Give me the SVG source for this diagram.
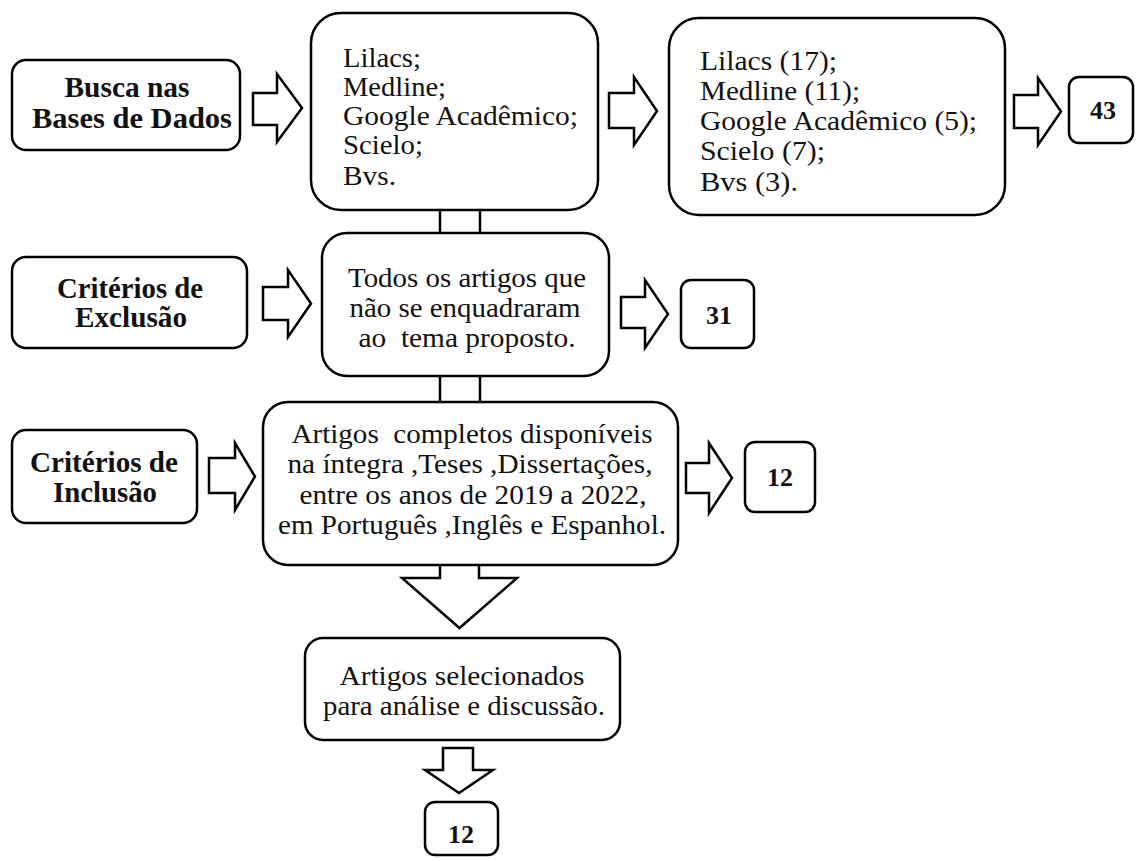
<svg xmlns="http://www.w3.org/2000/svg" width="1137" height="861" viewBox="0 0 1137 861">
<style>
.box{fill:#fff;stroke:#000;stroke-width:2.5}
.arr{fill:#fff;stroke:#000;stroke-width:2.5;stroke-linejoin:miter}
.ln{stroke:#000;stroke-width:2.5}
text{font-family:'Liberation Serif','Tinos','Times New Roman','Nimbus Roman','DejaVu Serif',serif;font-size:28px;fill:#111;white-space:pre}
.c{text-anchor:middle}
.b{font-weight:bold;font-size:29px}
.n{font-weight:bold;font-size:26px}
</style>
<rect width="1137" height="861" fill="#fff"/>
<g id="connectors">
<line class="ln" x1="440" y1="210" x2="440" y2="233"/>
<line class="ln" x1="480" y1="210" x2="480" y2="233"/>
<line class="ln" x1="440" y1="376" x2="440" y2="402"/>
<line class="ln" x1="480" y1="376" x2="480" y2="402"/>
<path class="arr" d="M253 93 H277 V74 L302 108 L277 142 V125 H253 Z"/>
<path class="arr" d="M609 93 H634 V77 L657 111 L634 145 V128 H609 Z"/>
<path class="arr" d="M1014 95 H1038 V78 L1061 111.5 L1038 145 V128 H1014 Z"/>
<path class="arr" d="M263 287 H288 V270 L311 303.5 L288 337 V320 H263 Z"/>
<path class="arr" d="M621 297 H645 V280 L668 314 L645 348 V328 H621 Z"/>
<path class="arr" d="M209 458 H235 V443 L255 476.5 L235 510 V493 H209 Z"/>
<path class="arr" d="M686 463 H709 V443 L732 478 L709 513 V493 H686 Z"/>
<path class="arr" d="M440 565 V578 H402 L459.5 628 L517 578 H479 V565"/>
<path class="arr" d="M443 748 V770 H425 L459 793 L493 770 H473 V748 Z"/>
</g>
<g id="busca">
<rect class="box" x="12" y="60" width="228" height="90" rx="14"/>
<text class="c b" x="127" y="97" textLength="125" lengthAdjust="spacingAndGlyphs">Busca nas</text>
<text class="c b" x="132" y="128" textLength="200" lengthAdjust="spacingAndGlyphs">Bases de Dados</text>
</g>
<g id="bases">
<rect class="box" x="311" y="13" width="287" height="197" rx="30"/>
<text x="343" y="67" textLength="78" lengthAdjust="spacingAndGlyphs">Lilacs;</text>
<text x="343" y="96" textLength="103" lengthAdjust="spacingAndGlyphs">Medline;</text>
<text x="343" y="125" textLength="235" lengthAdjust="spacingAndGlyphs">Google Acadêmico;</text>
<text x="343" y="154" textLength="80" lengthAdjust="spacingAndGlyphs">Scielo;</text>
<text x="343" y="185" textLength="53" lengthAdjust="spacingAndGlyphs">Bvs.</text>
</g>
<g id="resultados">
<rect class="box" x="669" y="18" width="336" height="197" rx="30"/>
<text x="700" y="70" textLength="137" lengthAdjust="spacingAndGlyphs">Lilacs (17);</text>
<text x="700" y="100" textLength="160" lengthAdjust="spacingAndGlyphs">Medline (11);</text>
<text x="700" y="130" textLength="277" lengthAdjust="spacingAndGlyphs">Google Acadêmico (5);</text>
<text x="700" y="160" textLength="125" lengthAdjust="spacingAndGlyphs">Scielo (7);</text>
<text x="700" y="191" textLength="98" lengthAdjust="spacingAndGlyphs">Bvs (3).</text>
</g>
<g id="n43">
<rect class="box" x="1069" y="77" width="64" height="66" rx="10"/>
<text class="c n" x="1103" y="119">43</text>
</g>
<g id="exclusao-label">
<rect class="box" x="12" y="257" width="235" height="91" rx="14"/>
<text class="c b" x="130" y="298" textLength="146" lengthAdjust="spacingAndGlyphs">Critérios de</text>
<text class="c b" x="131" y="327" textLength="112" lengthAdjust="spacingAndGlyphs">Exclusão</text>
</g>
<g id="exclusao">
<rect class="box" x="322" y="233" width="287" height="143" rx="25"/>
<text class="c" x="467" y="287" textLength="238" lengthAdjust="spacingAndGlyphs">Todos os artigos que</text>
<text class="c" x="465" y="317" textLength="231" lengthAdjust="spacingAndGlyphs">não se enquadraram</text>
<text class="c" x="467" y="347" textLength="217" lengthAdjust="spacingAndGlyphs">ao  tema proposto.</text>
</g>
<g id="n31">
<rect class="box" x="681" y="280" width="73" height="68" rx="10"/>
<text class="c n" x="719" y="324">31</text>
</g>
<g id="inclusao-label">
<rect class="box" x="12" y="430" width="185" height="93" rx="14"/>
<text class="c b" x="104" y="472" textLength="148" lengthAdjust="spacingAndGlyphs">Critérios de</text>
<text class="c b" x="105" y="502" textLength="104" lengthAdjust="spacingAndGlyphs">Inclusão</text>
</g>
<g id="inclusao">
<rect class="box" x="263" y="402" width="415" height="163" rx="25"/>
<text class="c" x="472" y="443" textLength="361" lengthAdjust="spacingAndGlyphs">Artigos  completos disponíveis</text>
<text class="c" x="470" y="473" textLength="365" lengthAdjust="spacingAndGlyphs">na íntegra ,Teses ,Dissertações,</text>
<text class="c" x="473" y="504" textLength="347" lengthAdjust="spacingAndGlyphs">entre os anos de 2019 a 2022,</text>
<text class="c" x="472" y="534" textLength="388" lengthAdjust="spacingAndGlyphs">em Português ,Inglês e Espanhol.</text>
</g>
<g id="n12a">
<rect class="box" x="745" y="442" width="70" height="70" rx="10"/>
<text class="c n" x="780" y="486">12</text>
</g>
<g id="selecionados">
<rect class="box" x="305" y="638" width="315" height="102" rx="18"/>
<text class="c" x="462" y="685" textLength="245" lengthAdjust="spacingAndGlyphs">Artigos selecionados</text>
<text class="c" x="464" y="715" textLength="282" lengthAdjust="spacingAndGlyphs">para análise e discussão.</text>
</g>
<g id="n12b">
<rect class="box" x="425" y="802" width="73" height="53" rx="10"/>
<text class="c n" x="461" y="843">12</text>
</g>
</svg>
